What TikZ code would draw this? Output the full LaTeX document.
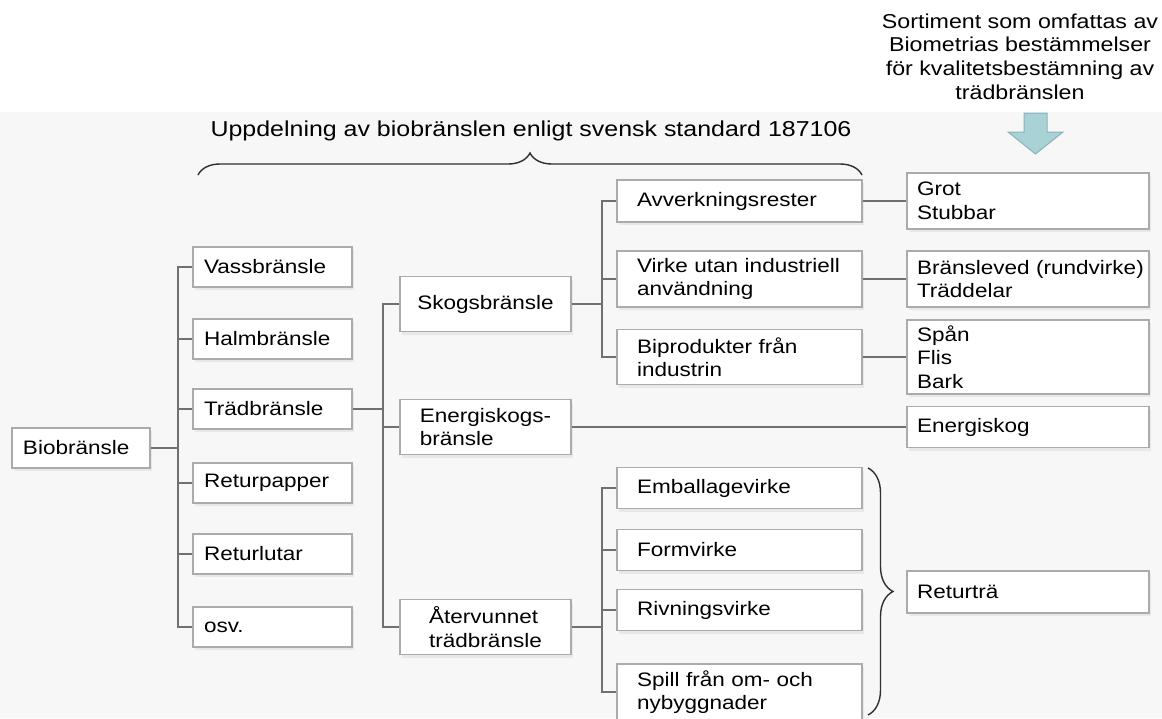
\documentclass[tikz,border=0pt]{standalone}
\usepackage{fontspec}
\setmainfont{Liberation Sans}[FakeStretch=1.155]
\usetikzlibrary{calc,shadows,decorations.pathreplacing}
\definecolor{linegray}{HTML}{707070}
\definecolor{boxgray}{HTML}{ABABAB}
\definecolor{bracegray}{HTML}{303030}
\definecolor{arrowfill}{HTML}{A9D2D6}
\definecolor{arrowline}{HTML}{86B4BA}
\definecolor{bggray}{HTML}{F7F7F7}
\tikzset{
	box/.style={draw=boxgray, line width=1.3pt, fill=white, drop shadow={shadow xshift=2pt, shadow yshift=-3pt, opacity=0.12}, font=\fontsize{19.5}{23.5}\selectfont, align=left, inner ysep=0pt},
	colone/.style={box, minimum width=138pt, minimum height=40pt, text width=116pt, inner xsep=11pt},
	coltwo/.style={box, minimum width=159pt, minimum height=40pt, text width=137pt, inner xsep=11pt},
	colthree/.style={box, minimum width=171pt, minimum height=55pt, inner xsep=0pt},
	colfour/.style={box, minimum width=245pt, text width=205pt, inner xsep=20pt},
	colfive/.style={box, minimum width=242pt, text width=222pt, inner xsep=10pt},
	conn/.style={draw=linegray, line width=1.5pt},
	bracket/.style={draw=bracegray, line width=1.4pt, decorate, decoration={brace, amplitude=#1}},
	heading/.style={font=\fontsize{21.6}{26}\selectfont, inner sep=0pt},
	note/.style={font=\fontsize{20.1}{23.7}\selectfont, align=center, inner sep=0pt}
}

\begin{document}
\begin{tikzpicture}[x=1pt, y=-1pt]
				\useasboundingbox (0,0) rectangle (1162,718);
				\clip (0,0) rectangle (1162,718);
				\fill[white] (0,0) rectangle (1162,718);
				\fill[bggray] (0,112) rectangle (1162,718);
				
				\node[note] (sort) at (1020,56.5) {Sortiment som omfattas av\\Biometrias bestämmelser\\för kvalitetsbestämning av\\trädbränslen};
				\draw[fill=arrowfill, draw=arrowline, line width=1pt] (1024,113) -- (1047,113) -- (1047,132) -- (1063,132) -- (1035.5,154) -- (1008,132) -- (1024,132) -- cycle;
				
				\node[heading] (ttl) at (531,131) {Uppdelning av biobränslen enligt svensk standard 187106};
				\draw[bracket=22pt] (198,175) -- (862,175);
				
				\node[colone] (bio) at (81,448) {Biobränsle};
				
				\node[coltwo] (vass) at (272.5,267) {Vassbränsle};
				\node[coltwo] (halm) at (272.5,339) {Halmbränsle};
				\node[coltwo] (trad) at (272.5,409) {Trädbränsle};
				\node[coltwo] (retp) at (272.5,483) {Returpapper};
				\node[coltwo] (retl) at (272.5,554) {Returlutar};
				\node[coltwo] (osv) at (272.5,627) {osv.};
				
				\node[colthree] (skog) at (485.5,304) {Skogsbränsle};
				\node[colthree] (energi) at (485.5,427) {Energiskogs-\\bränsle};
				\node[colthree] (atev) at (485.5,627) {Återvunnet\\trädbränsle};
				
				\node[colfour, minimum height=42pt] (avv) at (739.5,201) {Avverkningsrester};
				\node[colfour, minimum height=56pt] (virke) at (739.5,279) {\mbox{Virke utan industriell}\\användning};
				\node[colfour, minimum height=55pt] (bipr) at (739.5,357) {Biprodukter från\\industrin};
				\node[colfour, minimum height=41pt] (emb) at (739.5,488) {Emballagevirke};
				\node[colfour, minimum height=41pt] (form) at (739.5,550) {Formvirke};
				\node[colfour, minimum height=41pt] (riv) at (739.5,610) {Rivningsvirke};
				\node[colfour, minimum height=56pt] (spill) at (739.5,692) {Spill från om- och\\nybyggnader};
				
				\node[colfive, minimum height=56pt] (grot) at (1028,201) {Grot\\Stubbar};
				\node[colfive, minimum height=56pt] (brv) at (1028,279) {\mbox{Bränsleved (rundvirke)}\\Träddelar};
				\node[colfive, minimum height=74pt] (span) at (1028,357) {Spån\\Flis\\Bark};
				\node[colfive, minimum height=41pt] (eskog) at (1028,427) {Energiskog};
				\node[colfive, minimum height=42pt] (retra) at (1028,592) {Returträ};
				
				\coordinate (j1) at (178,448);
				\coordinate (j2) at (383,409);
				\coordinate (j3) at (602,304);
				\coordinate (j4) at (602,627);
				
				\draw[conn] (bio.east) -- (j1);
				\draw[conn] (vass.west) -| (j1) |- (osv.west);
				\foreach \n in {halm,trad,retp,retl}
					\draw[conn] (\n.west) -- (\n.west -| j1);
				
				\draw[conn] (trad.east) -- (trad.east -| j2);
				\draw[conn] (skog.west) -| (j2) |- (atev.west);
				\draw[conn] (energi.west) -- (energi.west -| j2);
				
				\draw[conn] (skog.east) -- (skog.east -| j3);
				\draw[conn] (avv.west) -| (j3) |- (bipr.west);
				\draw[conn] (virke.west) -- (virke.west -| j3);
				
				\draw[conn] (atev.east) -- (atev.east -| j4);
				\draw[conn] (emb.west) -| (j4) |- (spill.west);
				\foreach \n in {form,riv}
					\draw[conn] (\n.west) -- (\n.west -| j4);
				
				\draw[conn] (avv.east) -- (grot.west);
				\draw[conn] (virke.east) -- (brv.west);
				\draw[conn] (bipr.east) -- (span.west);
				\draw[conn] (energi.east) -- (eskog.west);
				
				\draw[bracket=25pt] (868,468) -- (868,715);
\end{tikzpicture}
\end{document}
